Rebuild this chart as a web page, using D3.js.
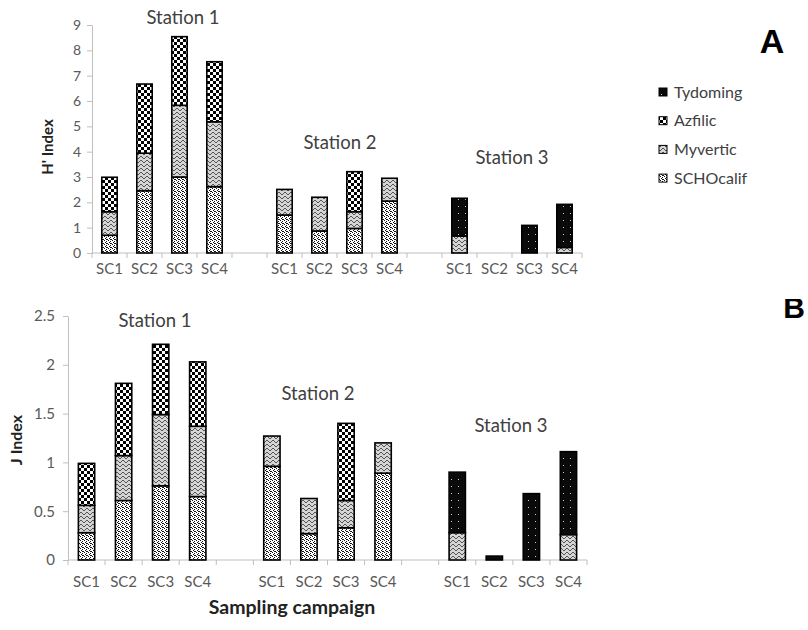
<!DOCTYPE html>
<html>
<head>
<meta charset="utf-8">
<script src="https://cdn.jsdelivr.net/npm/d3@7"></script>
<style>
  html, body { margin: 0; padding: 0; background: #fff; }
  svg { display: block; font-family: Lato, "Open Sans", sans-serif; }
</style>
</head>
<body>
<svg id="chart" width="808" height="630"></svg>
<script>
// ---------- DATA ----------
const campaigns = ["SC1", "SC2", "SC3", "SC4"];
const stations = ["Station 1", "Station 2", "Station 3"];
const seriesNames = ["SCHOcalif", "Myvertic", "Azfilic", "Tydoming"];
const legendOrder = ["Tydoming", "Azfilic", "Myvertic", "SCHOcalif"];

// H' index (panel A), 12 values = 3 stations x 4 campaigns
const hSCHOcalif = [0.70, 2.46, 3.00, 2.62, 1.50, 0.87, 0.97, 2.05, 0, 0, 0, 0];
const hMyvertic  = [0.93, 1.48, 2.83, 2.56, 1.01, 1.33, 0.66, 0.90, 0.67, 0, 0, 0.22];
const hAzfilic   = [1.36, 2.73, 2.71, 2.37, 0, 0, 1.58, 0, 0, 0, 0, 0];
const hTydoming  = [0, 0, 0, 0, 0, 0, 0, 0, 1.49, 0, 1.09, 1.70];
const hTicks = [0, 1, 2, 3, 4, 5, 6, 7, 8, 9];

// J index (panel B)
const jSCHOcalif = [0.28, 0.61, 0.76, 0.65, 0.96, 0.27, 0.33, 0.89, 0, 0, 0, 0];
const jMyvertic  = [0.28, 0.46, 0.73, 0.72, 0.31, 0.36, 0.28, 0.31, 0.28, 0, 0, 0.26];
const jAzfilic   = [0.43, 0.74, 0.72, 0.66, 0, 0, 0.79, 0, 0, 0, 0, 0];
const jTydoming  = [0, 0, 0, 0, 0, 0, 0, 0, 0.62, 0.04, 0.68, 0.85];
const jTicks = [0, 0.5, 1, 1.5, 2, 2.5];
const jTickLabels = ["0", "0.5", "1", "1.5", "2", "2.5"];

const xTitle = "Sampling campaign";

// ---------- SETUP ----------
const svg = d3.select("#chart");
const defs = svg.append("defs");

// patterns
(function () {
  // SCHOcalif: white with dense fine dots
  const p1 = defs.append("pattern").attr("id", "pat-SCHOcalif").attr("patternUnits", "userSpaceOnUse")
    .attr("width", 4).attr("height", 4);
  p1.append("rect").attr("width", 4).attr("height", 4).attr("fill", "#fff");
  [[0, 0], [2, 1], [1, 2], [3, 3], [2, 3]].forEach(([x, y]) =>
    p1.append("rect").attr("x", x).attr("y", y).attr("width", 1).attr("height", 1).attr("fill", "#111"));
  // Myvertic: grey zig-zag
  const p2 = defs.append("pattern").attr("id", "pat-Myvertic").attr("patternUnits", "userSpaceOnUse")
    .attr("width", 6).attr("height", 4);
  p2.append("rect").attr("width", 6).attr("height", 4).attr("fill", "#d6d6d6");
  p2.append("path").attr("d", "M0,3 L3,0 L6,3").attr("fill", "none").attr("stroke", "#555").attr("stroke-width", 1);
  // Azfilic: checkerboard
  const p3 = defs.append("pattern").attr("id", "pat-Azfilic").attr("patternUnits", "userSpaceOnUse")
    .attr("width", 6).attr("height", 6);
  p3.append("rect").attr("width", 6).attr("height", 6).attr("fill", "#fff");
  p3.append("rect").attr("x", 0).attr("y", 0).attr("width", 3).attr("height", 3).attr("fill", "#000");
  p3.append("rect").attr("x", 3).attr("y", 3).attr("width", 3).attr("height", 3).attr("fill", "#000");
  // Tydoming: black with sparse light dots
  const p4 = defs.append("pattern").attr("id", "pat-Tydoming").attr("patternUnits", "userSpaceOnUse")
    .attr("width", 7).attr("height", 7);
  p4.append("rect").attr("width", 7).attr("height", 7).attr("fill", "#0a0a0a");
  p4.append("rect").attr("x", 3).attr("y", 3).attr("width", 1).attr("height", 1).attr("fill", "#ccc");
})();

// 14 slots: 4 campaigns + gap per station
const slots = [];
stations.forEach((s, si) => {
  campaigns.forEach(c => slots.push(s + "|" + c));
  if (si < stations.length - 1) slots.push("gap" + si);
});

function panel(opt) {
  const g = svg.append("g");
  const x = d3.scaleBand().domain(slots).range([opt.x0, opt.x1]).paddingInner(0.56).paddingOuter(0.28);
  const y = d3.scaleLinear().domain([0, opt.max]).range([opt.y0, opt.y1]);

  const rows = [];
  stations.forEach((s, si) => campaigns.forEach((c, ci) => {
    const i = si * 4 + ci;
    const r = { key: s + "|" + c, campaign: c };
    seriesNames.forEach(n => r[n] = opt.data[n][i]);
    rows.push(r);
  }));
  const stacked = d3.stack().keys(seriesNames)(rows);

  // y axis
  const yAxis = d3.axisLeft(y).tickValues(opt.ticks).tickSize(5).tickSizeOuter(0).tickPadding(opt.tickPad)
    .tickFormat((d, i) => opt.tickLabels ? opt.tickLabels[i] : d);
  const ya = g.append("g").attr("transform", `translate(${opt.x0},0)`).call(yAxis);
  ya.selectAll("path, line").attr("stroke", "#bfbfbf");
  ya.selectAll("text").attr("fill", "#595959").style("font-size", opt.yTickFont + "px").style("font-family", "Lato, sans-serif");

  // x axis baseline + ticks at slot boundaries
  g.append("line").attr("x1", opt.x0).attr("x2", opt.x1).attr("y1", y(0)).attr("y2", y(0)).attr("stroke", "#bfbfbf");
  const step = x.step();
  const bounds = slots.map(s => x(s) - step * 0.28).concat([opt.x1]);
  g.selectAll(".xt").data(bounds).join("line").attr("class", "xt")
    .attr("x1", d => d).attr("x2", d => d).attr("y1", y(0)).attr("y2", y(0) + 5).attr("stroke", "#bfbfbf");
  g.selectAll(".xl").data(rows).join("text").attr("class", "xl")
    .attr("x", d => x(d.key) + x.bandwidth() / 2).attr("y", y(0) + opt.xLabelDy)
    .attr("text-anchor", "middle").attr("fill", "#595959").style("font-size", "15px")
    .text(d => d.campaign);

  // bars
  stacked.forEach(layer => {
    g.append("g").selectAll("rect").data(layer.filter(d => d[1] - d[0] > 0)).join("rect")
      .attr("x", d => x(d.data.key)).attr("width", x.bandwidth())
      .attr("y", d => y(d[1])).attr("height", d => y(d[0]) - y(d[1]))
      .attr("fill", `url(#pat-${layer.key})`).attr("stroke", "#000").attr("stroke-width", 1.6);
  });

  // station titles
  opt.titles.forEach((t, i) => {
    g.append("text").attr("x", t[0]).attr("y", t[1]).attr("text-anchor", "middle")
      .attr("fill", "#404040").style("font-size", "18.5px").text(stations[i]);
  });

  // y title
  g.append("text").attr("transform", `translate(${opt.yTitle[0]},${opt.yTitle[1]}) rotate(-90)`)
    .attr("text-anchor", "middle").attr("font-weight", "bold").attr("fill", "#222")
    .style("font-size", opt.yTitleFont + "px").text(opt.yTitleText);
}

panel({
  x0: 92, x1: 582, y0: 253, y1: 25, max: 9, ticks: hTicks, tickPad: 6, yTickFont: 14, xLabelDy: 21,
  data: { SCHOcalif: hSCHOcalif, Myvertic: hMyvertic, Azfilic: hAzfilic, Tydoming: hTydoming },
  titles: [[183, 24], [340, 149], [512, 164]],
  yTitle: [53, 147], yTitleText: "H' Index", yTitleFont: 15
});

panel({
  x0: 68, x1: 587, y0: 560, y1: 316, max: 2.5, ticks: jTicks, tickLabels: jTickLabels, tickPad: 8, yTickFont: 15, xLabelDy: 27,
  data: { SCHOcalif: jSCHOcalif, Myvertic: jMyvertic, Azfilic: jAzfilic, Tydoming: jTydoming },
  titles: [[155, 327], [318, 400], [511, 432]],
  yTitle: [22, 440], yTitleText: "J Index", yTitleFont: 16
});

// legend
const lg = svg.append("g");
legendOrder.forEach((n, i) => {
  const cy = 92 + i * 28.7;
  lg.append("rect").attr("x", 659).attr("y", cy - 4).attr("width", 8).attr("height", 8)
    .attr("fill", `url(#pat-${n})`).attr("stroke", "#000").attr("stroke-width", 1);
  lg.append("text").attr("x", 674).attr("y", cy + 5.5).attr("fill", "#404040").style("font-size", "16px").text(n);
});

// x title
svg.append("text").attr("x", 292).attr("y", 614).attr("text-anchor", "middle").attr("font-weight", "bold")
  .attr("fill", "#222").style("font-size", "19.5px").text(xTitle);

// panel letters
svg.append("text").attr("x", 772).attr("y", 53).attr("text-anchor", "middle").attr("font-weight", "bold")
  .style("font-family", "'Liberation Sans', Arial, sans-serif").style("font-size", "34px").attr("fill", "#000").text("A");
defs.append("clipPath").attr("id", "clipB").append("rect").attr("x", 760).attr("y", 299).attr("width", 48).attr("height", 30);
svg.append("text").attr("x", 794).attr("y", 318).attr("text-anchor", "middle").attr("font-weight", "bold")
  .attr("clip-path", "url(#clipB)")
  .style("font-family", "'Liberation Sans', Arial, sans-serif").style("font-size", "30px").attr("fill", "#000").text("B");
</script>
</body>
</html>
